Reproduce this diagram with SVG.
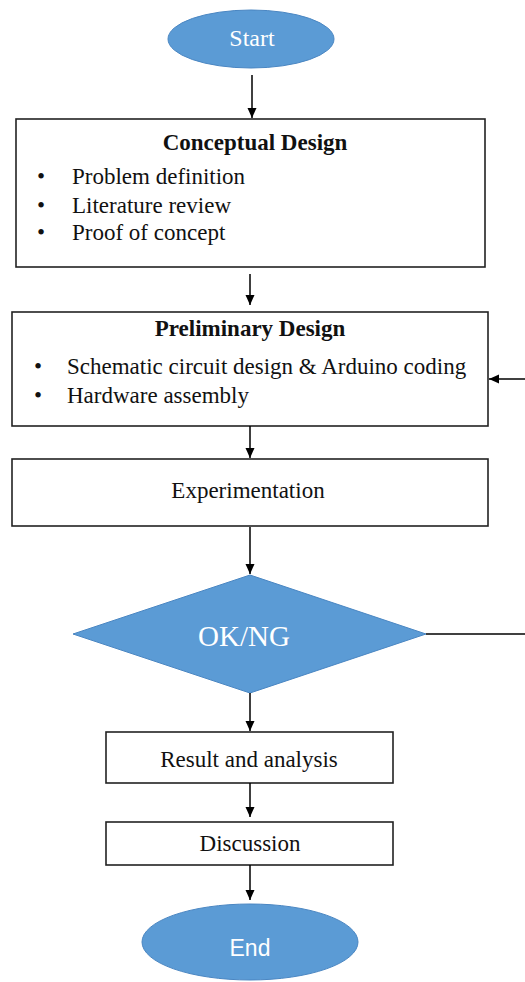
<svg xmlns="http://www.w3.org/2000/svg" width="525" height="982" viewBox="0 0 525 982">
<defs>
<marker id="ah" markerWidth="12" markerHeight="10" refX="10" refY="5" orient="auto" markerUnits="userSpaceOnUse">
<path d="M0,0.5 L10,5 L0,9.5 Z" fill="#000"/>
</marker>
<style>
.box{fill:#fff;stroke:#222;stroke-width:1.6}
.blue{fill:#5b9bd5;stroke:#4a86c2;stroke-width:1}
.t{font-family:"Liberation Serif",serif;font-size:23px;fill:#111}
.tb{font-family:"Liberation Serif",serif;font-size:23px;font-weight:bold;fill:#111}
.w{font-family:"Liberation Serif",serif;font-size:24px;fill:#fff}
.c{stroke:#000;stroke-width:1.5;fill:none}
</style>
</defs>
<rect width="525" height="982" fill="#fff"/>
<g id="start">
<ellipse class="blue" cx="251" cy="39" rx="83" ry="29"/>
<text class="w" x="252" y="46" text-anchor="middle">Start</text>
</g>
<g id="conceptual">
<rect class="box" x="16" y="119" width="469" height="148"/>
<text class="tb" x="255" y="150" text-anchor="middle">Conceptual Design</text>
<text class="t" x="37" y="184">•</text><text class="t" x="72" y="184">Problem definition</text>
<text class="t" x="37" y="213">•</text><text class="t" x="72" y="213">Literature review</text>
<text class="t" x="37" y="240">•</text><text class="t" x="72" y="240">Proof of concept</text>
</g>
<g id="preliminary">
<rect class="box" x="12" y="312" width="476" height="114"/>
<text class="tb" x="250" y="336" text-anchor="middle">Preliminary Design</text>
<text class="t" x="34" y="374">•</text><text class="t" x="67" y="374">Schematic circuit design &amp; Arduino coding</text>
<text class="t" x="34" y="403">•</text><text class="t" x="67" y="403">Hardware assembly</text>
</g>
<g id="experimentation">
<rect class="box" x="12" y="459" width="476" height="67"/>
<text class="t" x="248" y="498" text-anchor="middle">Experimentation</text>
</g>
<g id="decision">
<polygon class="blue" points="250,575 426,634 250,693 73,634"/>
<text class="w" x="244" y="646" text-anchor="middle" style="font-size:29px">OK/NG</text>
</g>
<g id="result">
<rect class="box" x="106" y="732" width="287" height="51"/>
<text class="t" x="249" y="767" text-anchor="middle">Result and analysis</text>
</g>
<g id="discussion">
<rect class="box" x="106" y="822" width="287" height="43"/>
<text class="t" x="250" y="851" text-anchor="middle">Discussion</text>
</g>
<g id="end">
<ellipse class="blue" cx="250" cy="942" rx="108" ry="38"/>
<text x="250" y="956" text-anchor="middle" style="font-family:'Liberation Sans',Arial,sans-serif;font-size:23px;fill:#fff">End</text>
</g>
<g id="connectors">
<line class="c" x1="252" y1="75" x2="252" y2="118" marker-end="url(#ah)"/>
<line class="c" x1="250" y1="274" x2="250" y2="305" marker-end="url(#ah)"/>
<line class="c" x1="250" y1="426" x2="250" y2="458" marker-end="url(#ah)"/>
<line class="c" x1="250" y1="527" x2="250" y2="574" marker-end="url(#ah)"/>
<line class="c" x1="250" y1="693" x2="250" y2="731" marker-end="url(#ah)"/>
<line class="c" x1="250" y1="783" x2="250" y2="817" marker-end="url(#ah)"/>
<line class="c" x1="250" y1="865" x2="250" y2="900" marker-end="url(#ah)"/>
<line class="c" x1="426" y1="634" x2="525" y2="634"/>
<line class="c" x1="525" y1="379" x2="489" y2="379" marker-end="url(#ah)"/>
</g>
</svg>
